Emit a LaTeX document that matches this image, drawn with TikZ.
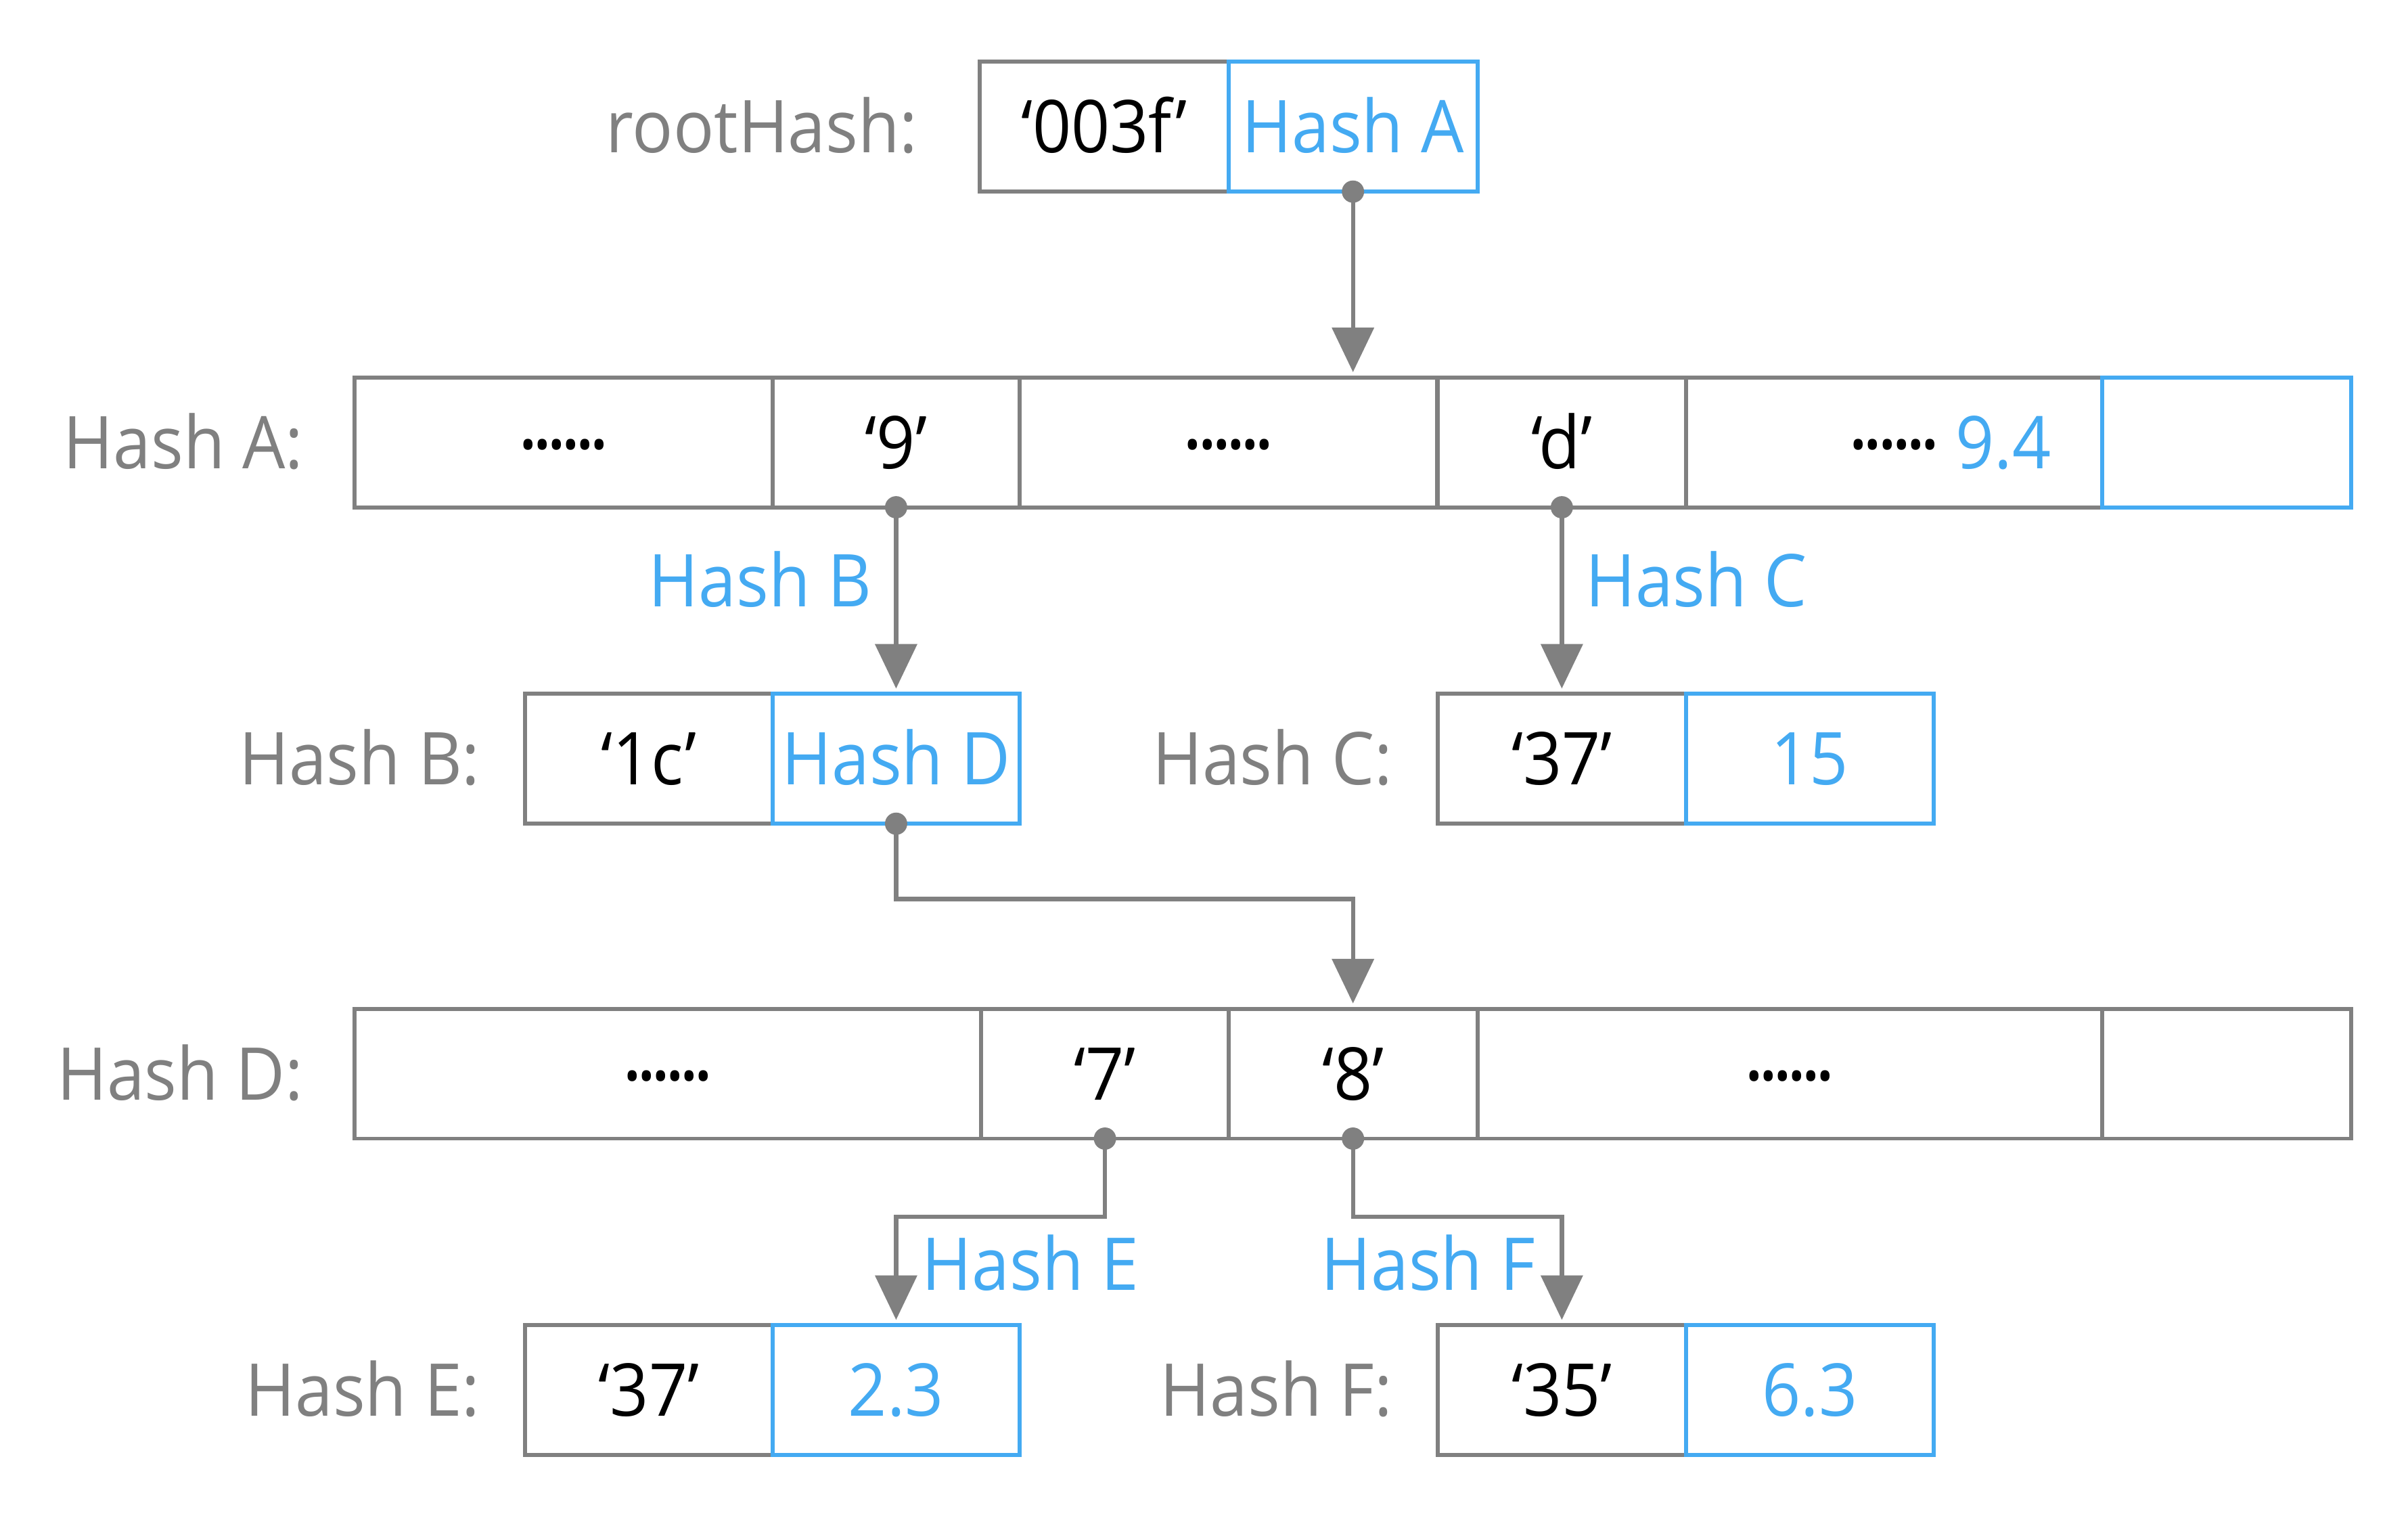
\documentclass[tikz,border=0pt]{standalone}
\usepackage{fontspec}
\setmainfont{Open Sans}[FakeStretch=0.93]
\usetikzlibrary{arrows.meta}
\definecolor{gcol}{RGB}{128,128,128}
\definecolor{bcol}{RGB}{68,170,242}
\newcommand\sixdots{\raisebox{7.2pt}{\fontsize{31}{31}\selectfont.\kern-2.4pt.\kern-2.4pt.\kern-2.4pt.\kern-2.4pt.\kern-2.4pt.}}
\begin{document}
\begin{tikzpicture}[x=0.02cm,y=-0.02cm,
  font=\fontsize{27}{32}\selectfont,
  cell/.style={draw=gcol, line width=1.5pt, minimum height=1.69cm, inner sep=0pt, outer sep=0pt, text height=19.3pt, text depth=0pt},
  bcell/.style={cell, draw=bcol, text=bcol},
  txtc/.style={inner sep=0pt, text height=19.3pt, text depth=0pt},
  lbl/.style={text=gcol, anchor=base east, inner sep=0pt},
  blbl/.style={text=bcol, inner sep=0pt},
  conn/.style={draw=gcol, line width=1.6pt, -{Triangle[width=0.54cm,length=0.58cm]}, shorten >=0.07cm},
  pin/.style={fill=gcol, circle, inner sep=0pt, minimum size=0.29cm}
]
\useasboundingbox (0,0) rectangle (1568,992);

% row labels
\node[lbl] (lroot) at (598,99.5) {rootHash:};
\node[lbl] (lA) at (198,305) {Hash A:};
\node[lbl] (lB2) at (313,511) {Hash B:};
\node[lbl] (lC2) at (907,511) {Hash C:};
\node[lbl] (lD) at (198,716) {Hash D:};
\node[lbl] (lE2) at (313,922) {Hash E:};
\node[lbl] (lF2) at (907,922) {Hash F:};

% root
\node[cell, minimum width=3.24cm] (c0a) at (719,82.5) {‘003f’};
% row A
\node[cell, minimum width=5.44cm] (a1) at (367,288) {\sixdots};
\node[cell, minimum width=3.22cm] (a2) at (583.5,288) {‘9’};
\node[cell, minimum width=5.44cm] (a3) at (800,288) {\sixdots};
\node[cell, minimum width=3.24cm] (a4) at (1017,288) {‘d’};
\node[cell, minimum width=5.42cm] (a5) at (1233.5,288) {};
\node[txtc] (a5dots) at (1233.5,288) {\sixdots};
\node[blbl, anchor=base west] (a5val) at (1273,305) {9.4};
% row B / C
\node[cell, minimum width=3.22cm] (b1) at (422.5,494) {‘1c’};
\node[cell, minimum width=3.24cm] (c1) at (1017,494) {‘37’};
% row D
\node[cell, minimum width=8.16cm] (d1) at (435,699) {\sixdots};
\node[cell, minimum width=3.22cm] (d2) at (719.5,699) {‘7’};
\node[cell, minimum width=3.24cm] (d3) at (881,699) {‘8’};
\node[cell, minimum width=8.14cm] (d4) at (1165.5,699) {\sixdots};
\node[cell, minimum width=3.24cm] (d5) at (1450,699) {};
% row E / F
\node[cell, minimum width=3.22cm] (e1) at (422.5,905) {‘37’};
\node[cell, minimum width=3.24cm] (f1) at (1017,905) {‘35’};

% blue cells
\node[bcell, minimum width=3.24cm] (c0b) at (881,82.5) {Hash A};
\node[bcell, minimum width=3.24cm] (a6) at (1450,288) {};
\node[bcell, minimum width=3.22cm] (b2) at (583.5,494) {Hash D};
\node[bcell, minimum width=3.22cm] (c2) at (1178.5,494) {15};
\node[bcell, minimum width=3.22cm] (e2) at (583.5,905) {2.3};
\node[bcell, minimum width=3.22cm] (f2) at (1178.5,905) {6.3};

% connector labels
\node[blbl, anchor=base east] (tB) at (568,395) {Hash B};
\node[blbl, anchor=base west] (tC) at (1032,395) {Hash C};
\node[blbl, anchor=base west] (tE) at (600,840) {Hash E};
\node[blbl, anchor=base east] (tF) at (1000,840) {Hash F};

% connectors
\draw[conn] (c0b.south) -- (c0b.south |- a3.north);
\draw[conn] (a2.south) -- (b2.north);
\draw[conn] (a4.south) -- (c1.north);
\draw[conn] (b2.south) -- ++(0,49) -| (d3.north);
\draw[conn] (d2.south) -- ++(0,51) -| (e2.north);
\draw[conn] (d3.south) -- ++(0,51) -| (f1.north);

% pins
\node[pin] (p0) at (c0b.south) {};
\node[pin] (p1) at (a2.south) {};
\node[pin] (p2) at (a4.south) {};
\node[pin] (p3) at (b2.south) {};
\node[pin] (p4) at (d2.south) {};
\node[pin] (p5) at (d3.south) {};
\end{tikzpicture}
\end{document}
